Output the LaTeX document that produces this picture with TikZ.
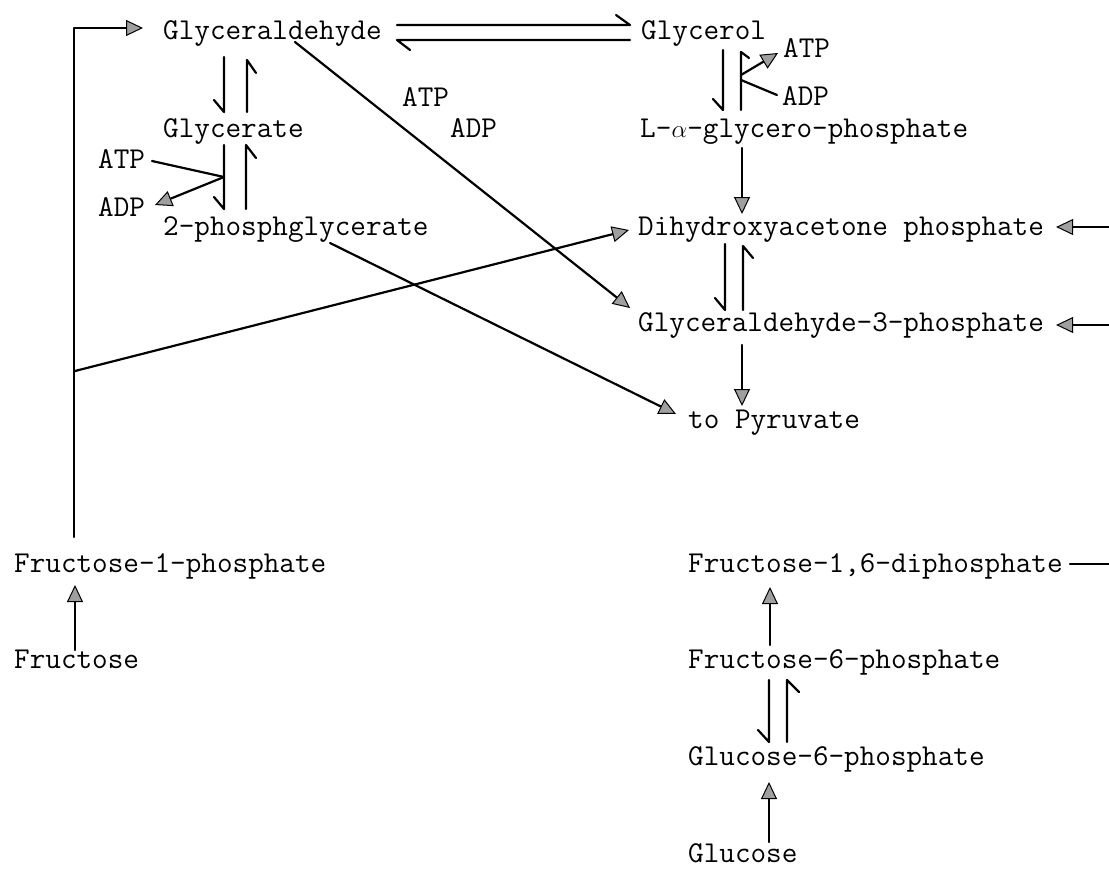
\documentclass[tikz,border=0pt]{standalone}
\usepackage{fontspec}
\usetikzlibrary{arrows.meta,calc}
\begin{document}
\begin{tikzpicture}[x=1pt,y=-1pt,
  lbl/.style={anchor=base west,inner sep=0pt,font=\ttfamily\fontsize{30.3}{36}\selectfont},
  conn/.style={line width=2.2pt,line cap=round,line join=round},
  tri/.style={conn,-{Triangle[length=17pt,width=16pt,fill=gray!75,line width=1pt]}}
]
\useasboundingbox (0,0) rectangle (1109,868);
% labels
\node[lbl] (gald) at (163,39) {Glyceraldehyde};
\node[lbl] (glyc) at (641,39) {Glycerol};
\node[lbl] (atpG) at (783,57) {ATP};
\node[lbl] (adpG) at (782,105) {ADP};
\node[lbl] (lag) at (640,137) {L-\makebox[0.525em]{$\alpha$}-glycero-phosphate};
\node[lbl] (glcr) at (163,137) {Glycerate};
\node[lbl] (atpM) at (402,106) {ATP};
\node[lbl] (adpM) at (450,137) {ADP};
\node[lbl] (atpL) at (98,168) {ATP};
\node[lbl] (adpL) at (98,216) {ADP};
\node[lbl] (pg) at (163,235) {2-phosphglycerate};
\node[lbl] (dhap) at (638,235) {Dihydroxyacetone phosphate};
\node[lbl] (g3p) at (638,331) {Glyceraldehyde-3-phosphate};
\node[lbl] (pyr) at (688,428) {to Pyruvate};
\node[lbl] (f1p) at (14,572) {Fructose-1-phosphate};
\node[lbl] (fru) at (14,668) {Fructose};
\node[lbl] (fdp) at (688,572) {Fructose-1,6-diphosphate};
\node[lbl] (f6p) at (688,668) {Fructose-6-phosphate};
\node[lbl] (g6p) at (688,765) {Glucose-6-phosphate};
\node[lbl] (glu) at (688,862) {Glucose};
% free ends and junctions
\coordinate (rin1) at (1109,227);
\coordinate (rin2) at (1109,325);
\coordinate (rout) at (1109,564);
\coordinate (jL) at ($(glcr.base west)+(61,40)$);
\coordinate (jG1) at ($(glyc.base west)+(100,36)$);
\coordinate (jG2) at ($(glyc.base west)+(100,41)$);
\coordinate (jB) at ($(f1p.base west)+(61,-201)$);
% Glyceraldehyde <=> Glycerol (harpoons, barb drawn as path end)
\draw[conn] ($(gald.base west)+(234,-14)$) -- ($(glyc.base west)+(-11,-14)$) -- ++(-14,-10);
\draw[conn] ($(glyc.base west)+(-11,1)$) -- ($(gald.base west)+(234,1)$) -- ++(13,10);
% Glyceraldehyde <=> Glycerate
\draw[conn] ($(gald.base west)+(61,18)$) -- ($(glcr.base west)+(61,-25)$) -- ++(-10,-12);
\draw[conn] ($(glcr.base west)+(84,-25)$) -- ($(gald.base west)+(84,21)$) -- ++(9,13);
% Glycerate <=> 2-phosphglycerate
\draw[conn] ($(glcr.base west)+(61,8)$) -- ($(pg.base west)+(61,-26)$) -- ++(-10,-12);
\draw[conn] ($(pg.base west)+(83,-26)$) -- ($(glcr.base west)+(83,8)$) -- ++(10,13);
\draw[conn] ($(atpL.base west)+(54,-7)$) -- (jL);
\draw[tri] (jL) -- ($(adpL.base west)+(57,-11)$);
% Glycerol <=> L-alpha-glycerophosphate
\draw[conn] ($(glyc.base west)+(82,11)$) -- ($(lag.base west)+(83,-27)$) -- ++(-10,-11);
\draw[conn] ($(lag.base west)+(101,-27)$) -- ($(glyc.base west)+(100,13)$) -- ++(8,6);
\draw[tri] (jG1) -- ($(atpG.base west)+(-5,-4)$);
\draw[conn] (jG2) -- ($(adpG.base west)+(-5,-10)$);
% right column
\draw[tri] ($(lag.base west)+(102,11)$) -- ($(dhap.base west)+(104,-21)$);
\draw[conn] ($(dhap.base west)+(87,9)$) -- ($(g3p.base west)+(87,-21)$) -- ++(-10,-12);
\draw[conn] ($(g3p.base west)+(105,-21)$) -- ($(dhap.base west)+(105,11)$) -- ++(10,12);
\draw[tri] ($(g3p.base west)+(104,14)$) -- ($(pyr.base west)+(54,-22)$);
\draw[tri] (rin1) -- ($(dhap.base east)+(12,-8)$);
\draw[tri] (rin2) -- ($(g3p.base east)+(12,-6)$);
% diagonals
\draw[tri] ($(gald.base west)+(132,3)$) -- ($(g3p.base west)+(-8,-23)$);
\draw[tri] ($(pg.base west)+(167,8)$) -- ($(pyr.base west)+(-12,-14)$);
% left loop
\draw[tri] ($(f1p.base west)+(60,-35)$) |- ($(gald.base west)+(-20,-11)$);
\draw[tri] (jB) -- ($(dhap.base west)+(-9,-5)$);
\draw[tri] ($(fru.base west)+(61,-18)$) -- ($(f1p.base west)+(61,13)$);
% lower right
\draw[conn] ($(fdp.base east)+(7,-8)$) -- (rout);
\draw[tri] ($(f6p.base west)+(82,-23)$) -- ($(fdp.base west)+(82,15)$);
\draw[conn] ($(f6p.base west)+(81,12)$) -- ($(g6p.base west)+(81,-23)$) -- ++(-11,-12);
\draw[conn] ($(g6p.base west)+(99,-23)$) -- ($(f6p.base west)+(99,12)$) -- ++(12,12);
\draw[tri] ($(glu.base west)+(81,-20)$) -- ($(g6p.base west)+(81,17)$);
\end{tikzpicture}
\end{document}
